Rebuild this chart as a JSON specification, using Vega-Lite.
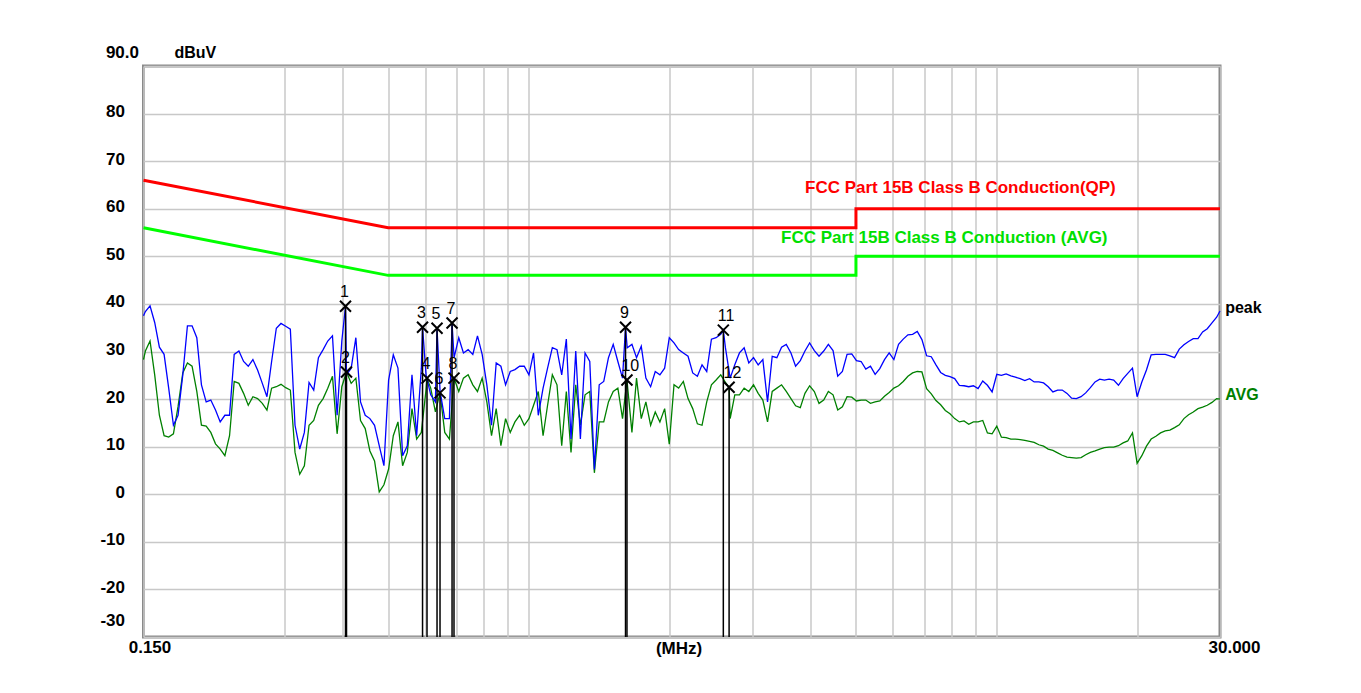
{
"$schema": "https://vega.github.io/schema/vega-lite/v6.json",
"width": 1076.5,
"height": 571,
"autosize": {"type": "none"},
"padding": {"left": 143.5, "top": 66, "right": 141, "bottom": 56},
"background": "white",
"config": {"view": {"stroke": "#8a8a8a", "strokeWidth": 3}, "font": "Liberation Sans"},
"datasets": {
"lim": [
{"g":"qp","i":0,"f":0.15,"v":66},{"g":"qp","i":1,"f":0.5,"v":56},{"g":"qp","i":2,"f":5,"v":56},{"g":"qp","i":3,"f":5,"v":60},{"g":"qp","i":4,"f":30,"v":60},
{"g":"avg","i":0,"f":0.15,"v":56},{"g":"avg","i":1,"f":0.5,"v":46},{"g":"avg","i":2,"f":5,"v":46},{"g":"avg","i":3,"f":5,"v":50},{"g":"avg","i":4,"f":30,"v":50}],
"pk": [
{"f":0.15,"v":37.5},{"f":0.1514,"v":38.4},{"f":0.1549,"v":39.6},{"f":0.1585,"v":36.1},{"f":0.1622,"v":30.9},{"f":0.166,"v":29.4},{"f":0.1698,"v":22.3},{"f":0.1738,"v":14.5},{"f":0.1778,"v":16.6},{"f":0.182,"v":25.1},{"f":0.1862,"v":35.4},{"f":0.1905,"v":35.4},{"f":0.195,"v":32.9},{"f":0.1995,"v":23.0},{"f":0.2042,"v":19.4},{"f":0.2089,"v":19.8},{"f":0.2138,"v":17.7},{"f":0.2188,"v":15.2},{"f":0.2239,"v":16.6},{"f":0.2291,"v":16.6},{"f":0.2344,"v":29.4},{"f":0.2399,"v":30.1},{"f":0.2455,"v":27.9},{"f":0.2512,"v":26.9},{"f":0.257,"v":28.3},{"f":0.263,"v":26.1},{"f":0.2692,"v":23.3},{"f":0.2754,"v":20.5},{"f":0.2818,"v":27.9},{"f":0.2884,"v":34.9},{"f":0.2951,"v":35.9},{"f":0.302,"v":35.3},{"f":0.309,"v":34.7},{"f":0.3162,"v":14.5},{"f":0.3236,"v":9.5},{"f":0.3311,"v":13.0},{"f":0.3388,"v":23.5},{"f":0.3467,"v":21.9},{"f":0.3548,"v":28.7},{"f":0.3631,"v":30.4},{"f":0.3715,"v":32.2},{"f":0.3802,"v":33.3},{"f":0.389,"v":16.6},{"f":0.3981,"v":32.2},{"f":0.4054,"v":39.5},{"f":0.4074,"v":25.1},{"f":0.4169,"v":26.5},{"f":0.4266,"v":32.9},{"f":0.4365,"v":19.4},{"f":0.4467,"v":16.6},{"f":0.4571,"v":15.9},{"f":0.4677,"v":14.5},{"f":0.4786,"v":10.2},{"f":0.4898,"v":6.0},{"f":0.5012,"v":24.0},{"f":0.5129,"v":29.3},{"f":0.5248,"v":26.5},{"f":0.537,"v":8.1},{"f":0.5495,"v":10.2},{"f":0.5623,"v":25.1},{"f":0.5754,"v":12.3},{"f":0.5888,"v":26.5},{"f":0.5923,"v":35.1},{"f":0.6026,"v":25.1},{"f":0.6166,"v":20.9},{"f":0.631,"v":19.4},{"f":0.6361,"v":34.9},{"f":0.6457,"v":21.6},{"f":0.6607,"v":15.9},{"f":0.6761,"v":15.9},{"f":0.6849,"v":36.0},{"f":0.6918,"v":28.7},{"f":0.7079,"v":32.9},{"f":0.7244,"v":29.7},{"f":0.7413,"v":30.4},{"f":0.7586,"v":29.4},{"f":0.7762,"v":33.3},{"f":0.7943,"v":29.4},{"f":0.8128,"v":23.0},{"f":0.8318,"v":14.5},{"f":0.8511,"v":27.6},{"f":0.871,"v":26.9},{"f":0.8913,"v":23.0},{"f":0.912,"v":25.8},{"f":0.9333,"v":26.2},{"f":0.955,"v":26.9},{"f":0.9772,"v":26.9},{"f":1.0,"v":25.1},{"f":1.023,"v":29.7},{"f":1.047,"v":16.6},{"f":1.072,"v":22.3},{"f":1.096,"v":26.5},{"f":1.122,"v":30.8},{"f":1.148,"v":30.4},{"f":1.175,"v":25.1},{"f":1.202,"v":32.6},{"f":1.23,"v":11.6},{"f":1.259,"v":30.1},{"f":1.288,"v":11.6},{"f":1.318,"v":29.7},{"f":1.349,"v":27.9},{"f":1.38,"v":5.2},{"f":1.413,"v":23.0},{"f":1.445,"v":23.7},{"f":1.479,"v":28.7},{"f":1.514,"v":31.5},{"f":1.549,"v":27.9},{"f":1.585,"v":24.4},{"f":1.6085,"v":35.1},{"f":1.622,"v":30.8},{"f":1.66,"v":31.5},{"f":1.698,"v":28.7},{"f":1.738,"v":31.1},{"f":1.778,"v":24.4},{"f":1.82,"v":22.6},{"f":1.862,"v":25.8},{"f":1.905,"v":25.1},{"f":1.95,"v":26.5},{"f":1.995,"v":32.9},{"f":2.042,"v":31.8},{"f":2.089,"v":30.4},{"f":2.138,"v":29.7},{"f":2.188,"v":29.0},{"f":2.239,"v":25.5},{"f":2.291,"v":24.8},{"f":2.344,"v":27.2},{"f":2.399,"v":25.8},{"f":2.455,"v":32.6},{"f":2.512,"v":32.9},{"f":2.57,"v":33.6},{"f":2.603,"v":34.5},{"f":2.63,"v":30.8},{"f":2.692,"v":24.4},{"f":2.754,"v":27.2},{"f":2.818,"v":29.7},{"f":2.884,"v":30.8},{"f":2.951,"v":27.6},{"f":3.02,"v":28.7},{"f":3.09,"v":27.2},{"f":3.162,"v":28.3},{"f":3.236,"v":19.4},{"f":3.311,"v":29.0},{"f":3.388,"v":28.7},{"f":3.467,"v":30.9},{"f":3.548,"v":31.5},{"f":3.631,"v":29.7},{"f":3.715,"v":26.9},{"f":3.802,"v":28.1},{"f":3.89,"v":30.1},{"f":3.981,"v":31.8},{"f":4.074,"v":30.2},{"f":4.169,"v":29.0},{"f":4.266,"v":30.1},{"f":4.365,"v":31.5},{"f":4.467,"v":30.2},{"f":4.571,"v":24.8},{"f":4.677,"v":25.8},{"f":4.786,"v":29.4},{"f":4.898,"v":29.5},{"f":5.012,"v":28.1},{"f":5.129,"v":27.9},{"f":5.248,"v":26.3},{"f":5.37,"v":26.9},{"f":5.495,"v":25.2},{"f":5.623,"v":26.4},{"f":5.754,"v":28.3},{"f":5.888,"v":29.7},{"f":6.026,"v":28.3},{"f":6.166,"v":31.5},{"f":6.31,"v":32.6},{"f":6.457,"v":33.5},{"f":6.607,"v":33.6},{"f":6.761,"v":34.2},{"f":6.918,"v":32.5},{"f":7.079,"v":29.1},{"f":7.244,"v":28.9},{"f":7.413,"v":27.2},{"f":7.586,"v":25.6},{"f":7.762,"v":25.0},{"f":7.943,"v":24.7},{"f":8.128,"v":24.3},{"f":8.318,"v":22.9},{"f":8.511,"v":22.8},{"f":8.71,"v":22.6},{"f":8.913,"v":22.8},{"f":9.12,"v":22.2},{"f":9.333,"v":23.8},{"f":9.55,"v":22.9},{"f":9.772,"v":21.5},{"f":10.0,"v":25.2},{"f":10.23,"v":25.0},{"f":10.47,"v":25.3},{"f":10.72,"v":24.9},{"f":10.96,"v":24.6},{"f":11.22,"v":24.3},{"f":11.48,"v":23.9},{"f":11.75,"v":24.3},{"f":12.02,"v":23.6},{"f":12.3,"v":23.6},{"f":12.59,"v":23.4},{"f":12.88,"v":22.6},{"f":13.18,"v":21.5},{"f":13.49,"v":21.9},{"f":13.8,"v":21.9},{"f":14.13,"v":21.2},{"f":14.45,"v":20.2},{"f":14.79,"v":20.1},{"f":15.14,"v":20.5},{"f":15.49,"v":21.3},{"f":15.85,"v":22.4},{"f":16.22,"v":23.6},{"f":16.6,"v":24.2},{"f":16.98,"v":24.0},{"f":17.38,"v":24.2},{"f":17.78,"v":24.0},{"f":18.2,"v":22.9},{"f":18.62,"v":24.3},{"f":19.05,"v":25.4},{"f":19.5,"v":26.5},{"f":19.95,"v":20.5},{"f":20.42,"v":23.6},{"f":20.89,"v":26.1},{"f":21.38,"v":29.3},{"f":21.88,"v":29.4},{"f":22.39,"v":29.4},{"f":22.91,"v":29.4},{"f":23.44,"v":29.1},{"f":23.99,"v":28.7},{"f":24.55,"v":30.5},{"f":25.12,"v":31.4},{"f":25.7,"v":32.1},{"f":26.3,"v":32.7},{"f":26.92,"v":32.7},{"f":27.54,"v":34.1},{"f":28.18,"v":34.8},{"f":28.84,"v":36.0},{"f":29.51,"v":37.2},{"f":30,"v":38.5}],
"av": [
{"f":0.15,"v":28.3},{"f":0.1514,"v":30.1},{"f":0.1549,"v":32.2},{"f":0.1585,"v":25.1},{"f":0.1622,"v":16.6},{"f":0.166,"v":12.3},{"f":0.1698,"v":12.0},{"f":0.1738,"v":12.7},{"f":0.1778,"v":18.4},{"f":0.182,"v":25.5},{"f":0.1862,"v":27.6},{"f":0.1905,"v":26.9},{"f":0.195,"v":21.6},{"f":0.1995,"v":14.5},{"f":0.2042,"v":14.3},{"f":0.2089,"v":13.0},{"f":0.2138,"v":10.6},{"f":0.2188,"v":9.5},{"f":0.2239,"v":8.1},{"f":0.2291,"v":12.3},{"f":0.2344,"v":23.7},{"f":0.2399,"v":23.3},{"f":0.2455,"v":21.2},{"f":0.2512,"v":18.7},{"f":0.257,"v":20.5},{"f":0.263,"v":20.1},{"f":0.2692,"v":19.1},{"f":0.2754,"v":17.7},{"f":0.2818,"v":22.3},{"f":0.2884,"v":22.6},{"f":0.2951,"v":23.1},{"f":0.302,"v":22.4},{"f":0.309,"v":21.9},{"f":0.3162,"v":8.8},{"f":0.3236,"v":4.2},{"f":0.3311,"v":6.0},{"f":0.3388,"v":14.5},{"f":0.3467,"v":15.5},{"f":0.3548,"v":18.7},{"f":0.3631,"v":20.1},{"f":0.3715,"v":22.3},{"f":0.3802,"v":24.8},{"f":0.389,"v":12.7},{"f":0.3981,"v":22.6},{"f":0.4074,"v":25.7},{"f":0.4169,"v":23.3},{"f":0.4266,"v":24.4},{"f":0.4365,"v":15.5},{"f":0.4467,"v":13.8},{"f":0.4571,"v":9.1},{"f":0.4677,"v":7.0},{"f":0.4786,"v":0.5},{"f":0.4898,"v":2.0},{"f":0.5012,"v":5.3},{"f":0.5129,"v":12.3},{"f":0.5248,"v":15.2},{"f":0.537,"v":6.0},{"f":0.5495,"v":8.8},{"f":0.5623,"v":18.0},{"f":0.5754,"v":11.6},{"f":0.5888,"v":13.0},{"f":0.6026,"v":22.0},{"f":0.6055,"v":24.4},{"f":0.6166,"v":22.3},{"f":0.631,"v":17.3},{"f":0.6455,"v":21.3},{"f":0.6607,"v":13.0},{"f":0.6761,"v":11.6},{"f":0.6915,"v":24.4},{"f":0.7079,"v":21.6},{"f":0.7244,"v":24.4},{"f":0.7413,"v":25.1},{"f":0.7586,"v":23.0},{"f":0.7762,"v":21.6},{"f":0.7943,"v":24.4},{"f":0.8128,"v":19.4},{"f":0.8318,"v":12.3},{"f":0.8511,"v":18.0},{"f":0.871,"v":10.2},{"f":0.8913,"v":15.9},{"f":0.912,"v":13.0},{"f":0.9333,"v":15.2},{"f":0.955,"v":16.6},{"f":0.9772,"v":14.5},{"f":1.0,"v":15.9},{"f":1.023,"v":18.7},{"f":1.047,"v":21.6},{"f":1.072,"v":12.3},{"f":1.096,"v":18.7},{"f":1.122,"v":25.1},{"f":1.148,"v":23.0},{"f":1.175,"v":10.2},{"f":1.202,"v":21.6},{"f":1.23,"v":8.8},{"f":1.259,"v":23.0},{"f":1.288,"v":14.5},{"f":1.318,"v":20.9},{"f":1.349,"v":21.6},{"f":1.38,"v":4.5},{"f":1.413,"v":15.2},{"f":1.445,"v":15.2},{"f":1.479,"v":19.4},{"f":1.514,"v":21.6},{"f":1.549,"v":22.3},{"f":1.585,"v":15.9},{"f":1.62,"v":24.0},{"f":1.66,"v":13.0},{"f":1.698,"v":24.4},{"f":1.738,"v":15.9},{"f":1.778,"v":19.4},{"f":1.82,"v":14.5},{"f":1.862,"v":17.3},{"f":1.905,"v":15.2},{"f":1.95,"v":18.0},{"f":1.995,"v":10.5},{"f":2.042,"v":23.0},{"f":2.089,"v":22.3},{"f":2.138,"v":23.7},{"f":2.188,"v":20.1},{"f":2.239,"v":18.0},{"f":2.291,"v":14.8},{"f":2.344,"v":14.5},{"f":2.399,"v":19.4},{"f":2.455,"v":23.0},{"f":2.512,"v":24.0},{"f":2.57,"v":25.1},{"f":2.63,"v":23.5},{"f":2.678,"v":22.5},{"f":2.692,"v":15.9},{"f":2.754,"v":20.9},{"f":2.818,"v":20.9},{"f":2.884,"v":22.3},{"f":2.951,"v":21.6},{"f":3.02,"v":23.0},{"f":3.09,"v":21.2},{"f":3.162,"v":19.8},{"f":3.236,"v":15.2},{"f":3.311,"v":21.6},{"f":3.388,"v":22.3},{"f":3.467,"v":23.0},{"f":3.548,"v":21.6},{"f":3.631,"v":20.1},{"f":3.715,"v":18.6},{"f":3.802,"v":18.2},{"f":3.89,"v":21.2},{"f":3.981,"v":22.8},{"f":4.074,"v":21.6},{"f":4.169,"v":19.1},{"f":4.266,"v":19.8},{"f":4.365,"v":21.6},{"f":4.467,"v":20.9},{"f":4.571,"v":17.7},{"f":4.677,"v":18.4},{"f":4.786,"v":20.5},{"f":4.898,"v":20.4},{"f":5.012,"v":19.6},{"f":5.129,"v":19.8},{"f":5.248,"v":19.8},{"f":5.37,"v":19.1},{"f":5.495,"v":19.4},{"f":5.623,"v":19.6},{"f":5.754,"v":20.6},{"f":5.888,"v":21.4},{"f":6.026,"v":22.3},{"f":6.166,"v":22.8},{"f":6.31,"v":23.7},{"f":6.457,"v":24.8},{"f":6.607,"v":25.5},{"f":6.761,"v":25.8},{"f":6.918,"v":25.7},{"f":7.079,"v":22.2},{"f":7.244,"v":21.1},{"f":7.413,"v":19.7},{"f":7.586,"v":18.8},{"f":7.762,"v":17.6},{"f":7.943,"v":16.9},{"f":8.128,"v":15.9},{"f":8.318,"v":15.2},{"f":8.511,"v":15.4},{"f":8.71,"v":14.7},{"f":8.913,"v":15.2},{"f":9.12,"v":15.2},{"f":9.333,"v":15.5},{"f":9.55,"v":12.9},{"f":9.772,"v":12.7},{"f":10.0,"v":14.3},{"f":10.23,"v":12.0},{"f":10.47,"v":11.9},{"f":10.72,"v":11.6},{"f":10.96,"v":11.6},{"f":11.22,"v":11.5},{"f":11.48,"v":11.3},{"f":11.75,"v":11.1},{"f":12.02,"v":10.9},{"f":12.3,"v":10.4},{"f":12.59,"v":10.1},{"f":12.88,"v":9.5},{"f":13.18,"v":9.2},{"f":13.49,"v":8.7},{"f":13.8,"v":8.2},{"f":14.13,"v":7.8},{"f":14.45,"v":7.7},{"f":14.79,"v":7.6},{"f":15.14,"v":7.7},{"f":15.49,"v":8.3},{"f":15.85,"v":8.8},{"f":16.22,"v":9.1},{"f":16.6,"v":9.5},{"f":16.98,"v":9.8},{"f":17.38,"v":9.9},{"f":17.78,"v":9.9},{"f":18.2,"v":10.2},{"f":18.62,"v":10.8},{"f":19.05,"v":11.2},{"f":19.5,"v":12.9},{"f":19.95,"v":6.5},{"f":20.42,"v":8.1},{"f":20.89,"v":10.1},{"f":21.38,"v":11.6},{"f":21.88,"v":12.2},{"f":22.39,"v":12.9},{"f":22.91,"v":13.3},{"f":23.44,"v":13.5},{"f":23.99,"v":14.0},{"f":24.55,"v":14.6},{"f":25.12,"v":15.9},{"f":25.7,"v":16.7},{"f":26.3,"v":17.3},{"f":26.92,"v":18.0},{"f":27.54,"v":18.3},{"f":28.18,"v":18.7},{"f":28.84,"v":19.3},{"f":29.51,"v":20.1},{"f":30,"v":20.0}],
"mk": [
{"n":"1","f":0.4054,"v":39.5},{"n":"2","f":0.4074,"v":25.7},{"n":"3","f":0.5923,"v":35.1},{"n":"4","f":0.6055,"v":24.4},{"n":"5","f":0.6361,"v":34.9},{"n":"6","f":0.6455,"v":21.3},{"n":"7","f":0.6849,"v":36.0},{"n":"8","f":0.6915,"v":24.4},{"n":"9","f":1.6085,"v":35.1},{"n":"10","f":1.62,"v":24.0},{"n":"11","f":2.603,"v":34.5},{"n":"12","f":2.678,"v":22.5}],
"txt": [
{"g":"qp","t":"FCC Part 15B Class B Conduction(QP)","f":3.891,"v":64.4},
{"g":"avl","t":"FCC Part 15B Class B Conduction (AVG)","f":3.458,"v":53.85},
{"g":"peak","t":"peak","f":30.77,"v":39.1},
{"g":"avg","t":"AVG","f":30.77,"v":20.85}]
},
"encoding": {
"x": {"field":"f","type":"quantitative",
 "scale":{"type":"log","domain":[0.15,30],"nice":false},
 "axis":{"values":[0.15,0.3,0.4,0.5,0.6,0.7,0.8,0.9,1,2,3,4,5,6,7,8,9,10,20,30],
  "labelExpr":"datum.value == 0.15 ? '0.150' : (datum.value == 30 ? '30.000' : '')",
  "labelOverlap":false,"labelFlush":false,"labelBound":false,
  "ticks":false,"domain":false,"grid":true,"gridColor":"#c8c8c8","gridWidth":1.5,
  "labelFont":"Liberation Sans","labelFontSize":17,"labelFontWeight":"bold","labelColor":"#000000",
  "labelPadding":10,"labelBaseline":"middle",
  "labelOffset":{"condition":{"test":"datum.value == 30","value":14},"value":6},
  "title":"(MHz)","titleFont":"Liberation Sans","titleFontSize":17,"titleFontWeight":"bold","titleColor":"#000000",
  "titleX":535,"titleY":11,"titleBaseline":"middle","titleAlign":"center"}},
"y": {"field":"v","type":"quantitative",
 "scale":{"domain":[-30,90],"nice":false,"zero":false},
 "axis":{"values":[-30,-20,-10,0,10,20,30,40,50,60,70,80,90],
  "labelExpr":"datum.value == 90 ? '90.0' : '' + datum.value",
  "labelOverlap":false,"labelFlush":false,"labelBound":false,
  "ticks":false,"domain":false,"grid":true,"gridColor":"#c8c8c8","gridWidth":1.5,
  "labelFont":"Liberation Sans","labelFontSize":17,"labelFontWeight":"bold","labelColor":"#000000",
  "labelAlign":"right","labelBaseline":"middle",
  "labelPadding":{"condition":{"test":"datum.value == 90","value":5},"value":19},
  "labelOffset":{"condition":[{"test":"datum.value == 90","value":-14},{"test":"datum.value == -30","value":-17}],"value":-2},
  "title":"dBuV","titleAngle":0,"titleX":30.5,"titleY":-14,"titleAlign":"left","titleBaseline":"middle",
  "titleFont":"Liberation Sans","titleFontSize":16,"titleFontWeight":"bold","titleColor":"#000000"}}
},
"layer": [
{"data":{"name":"lim"},"transform":[{"filter":"datum.g == 'qp'"}],"mark":{"type":"line","color":"#ff0000","strokeWidth":3},"encoding":{"order":{"field":"i","type":"quantitative"}}},
{"data":{"name":"lim"},"transform":[{"filter":"datum.g == 'avg'"}],"mark":{"type":"line","color":"#00ff00","strokeWidth":3},"encoding":{"order":{"field":"i","type":"quantitative"}}},
{"data":{"name":"av"},"mark":{"type":"line","color":"#008000","strokeWidth":1.3},"encoding":{}},
{"data":{"name":"pk"},"mark":{"type":"line","color":"#0000ff","strokeWidth":1.3},"encoding":{}},
{"data":{"name":"mk"},"mark":{"type":"rule","color":"#000000","strokeWidth":1.5},"encoding":{"y2":{"datum":-30}}},
{"data":{"name":"mk"},"mark":{"type":"point","shape":"M-1,-1L1,1M-1,1L1,-1","size":121,"filled":false,"stroke":"#000000","strokeWidth":2,"opacity":1},"encoding":{}},
{"data":{"name":"mk"},"mark":{"type":"text","align":"left","baseline":"middle","dx":-5.5,"dy":-14,"fontSize":16,"font":"Liberation Sans","color":"#000000"},"encoding":{"text":{"field":"n","type":"nominal"}}},
{"data":{"name":"txt"},"transform":[{"filter":"datum.g == 'qp'"}],"mark":{"type":"text","align":"left","baseline":"middle","fontSize":17,"fontWeight":"bold","font":"Liberation Sans","color":"#ff0000"},"encoding":{"text":{"field":"t","type":"nominal"}}},
{"data":{"name":"txt"},"transform":[{"filter":"datum.g == 'avl'"}],"mark":{"type":"text","align":"left","baseline":"middle","fontSize":17,"fontWeight":"bold","font":"Liberation Sans","color":"#00e000"},"encoding":{"text":{"field":"t","type":"nominal"}}},
{"data":{"name":"txt"},"transform":[{"filter":"datum.g == 'peak'"}],"mark":{"type":"text","align":"left","baseline":"middle","fontSize":16,"fontWeight":"bold","font":"Liberation Sans","color":"#000000"},"encoding":{"text":{"field":"t","type":"nominal"}}},
{"data":{"name":"txt"},"transform":[{"filter":"datum.g == 'avg'"}],"mark":{"type":"text","align":"left","baseline":"middle","fontSize":16,"fontWeight":"bold","font":"Liberation Sans","color":"#008000"},"encoding":{"text":{"field":"t","type":"nominal"}}}
]
}
